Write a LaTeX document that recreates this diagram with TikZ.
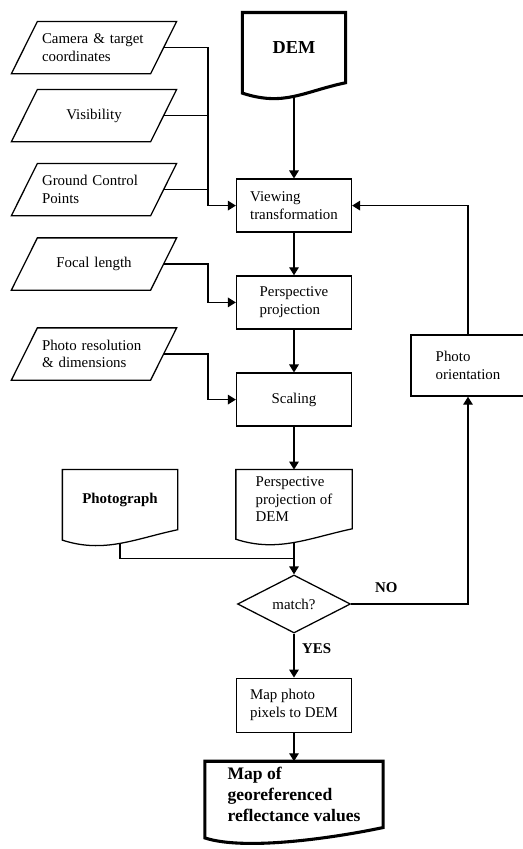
\documentclass[tikz,border=0pt]{standalone}
\usepackage{fontspec}
\setmainfont{Liberation Serif}
\usetikzlibrary{shapes.geometric,arrows.meta}

\begin{document}
\begin{tikzpicture}[
    line width=0.9pt,
    >={Triangle[length=2mm,width=2.4mm]},
    font=\fontsize{10.6}{12.6}\selectfont,
    procbox/.style={draw, rectangle, inner sep=0pt, minimum width=2.875cm, minimum height=1.325cm, align=left},
    iobox/.style={rectangle, inner ysep=0pt, inner xsep=0.425cm, text width=2.6cm, align=left, minimum height=1.275cm,
        append after command={\pgfextra{\draw
            ([xshift=0.325cm]\tikzlastnode.north west) -- ([xshift=0.325cm]\tikzlastnode.north east) --
            ([xshift=-0.325cm]\tikzlastnode.south east) -- ([xshift=-0.325cm]\tikzlastnode.south west) -- cycle;}}},
    docbox/.style={rectangle, inner sep=0pt, align=left,
        append after command={\pgfextra{\draw[line width=#1]
            (\tikzlastnode.north west) -- (\tikzlastnode.north east) -- (\tikzlastnode.south east)
            .. controls +(192:1.1) and +(-18:1.1) .. ([yshift=-0.26cm]\tikzlastnode.south west) -- cycle;}}},
    docbox/.default=0.9pt,
    testbox/.style={draw, diamond, aspect=2, inner sep=0pt, minimum width=2.825cm, minimum height=1.45cm},
    answer/.style={font=\fontsize{10.6}{12.6}\selectfont\bfseries}
]
    \useasboundingbox (0,0) rectangle (13.05,-21.225);
    % inputs
    \node (cam) at (2.35,-1.19) [iobox] {Camera \& target\\coordinates};
    \node (vis) at (2.35,-2.89) [iobox, align=center] {Visibility};
    \node (gcp) at (2.35,-4.74) [iobox] {Ground Control\\Points};
    \node (focal) at (2.35,-6.60) [iobox, align=center] {Focal length};
    \node (res) at (2.35,-8.85) [iobox] {Photo resolution\\\& dimensions};
    % main column
    \node (dem) at (7.35,-1.19) [docbox=2.2pt, minimum width=2.55cm, minimum height=1.725cm, font=\fontsize{13}{15}\selectfont\bfseries] {DEM};
    \node (view) at (7.35,-5.14) [procbox] {Viewing\\transformation};
    \node (persp) at (7.35,-7.56) [procbox] {Perspective\\projection};
    \node (scal) at (7.35,-9.99) [procbox] {Scaling};
    \node (pdem) at (7.35,-12.48) [docbox, minimum width=2.875cm, minimum height=1.45cm] {Perspective\\projection of\\DEM};
    \node (photo) at (3.0,-12.49) [docbox, minimum width=2.85cm, minimum height=1.475cm, font=\fontsize{10.6}{12.6}\selectfont\bfseries] {Photograph};
    \node (match) at (7.35,-15.10) [testbox] {match?};
    \node (orient) at (11.7,-9.14) [procbox, minimum width=2.85cm, minimum height=1.525cm] {Photo\\orientation};
    \node (pix) at (7.35,-17.63) [procbox, minimum height=1.35cm] {Map photo\\pixels to DEM};
    \node (map) at (7.35,-19.86) [docbox=2.2pt, minimum width=4.425cm, minimum height=1.625cm, font=\fontsize{12.5}{15}\selectfont\bfseries] {Map of\\georeferenced\\reflectance values};
    \coordinate (jn) at (5.2,-5.14);
    % connectors
    \draw (cam.east) -| (jn);
    \draw (vis.east) -- (vis.east -| jn);
    \draw (gcp.east) -- (gcp.east -| jn);
    \draw[->] (jn) -- (view.west);
    \draw[->] ([yshift=-0.34cm]dem.south) -- (view.north);
    \draw[->] (view.south) -- (persp.north);
    \draw[->] (focal.east) -- (focal.east -| jn) |- (persp.west);
    \draw[->] (persp.south) -- (scal.north);
    \draw[->] (res.east) -- (res.east -| jn) |- (scal.west);
    \draw[->] (scal.south) -- (pdem.north);
    \draw[->] ([yshift=-0.34cm]pdem.south) -- (match.north);
    \draw ([yshift=-0.34cm]photo.south) |- ([yshift=0.4cm]match.north);
    \draw[->] (match.east) -| node[pos=0.15, above=4pt, answer] {NO} (orient.south);
    \draw[->] (orient.north) |- (view.east);
    \draw[->] (match.south) -- node[pos=0.35, right=2pt, answer] {YES} (pix.north);
    \draw[->] (pix.south) -- (map.north);
\end{tikzpicture}
\end{document}
